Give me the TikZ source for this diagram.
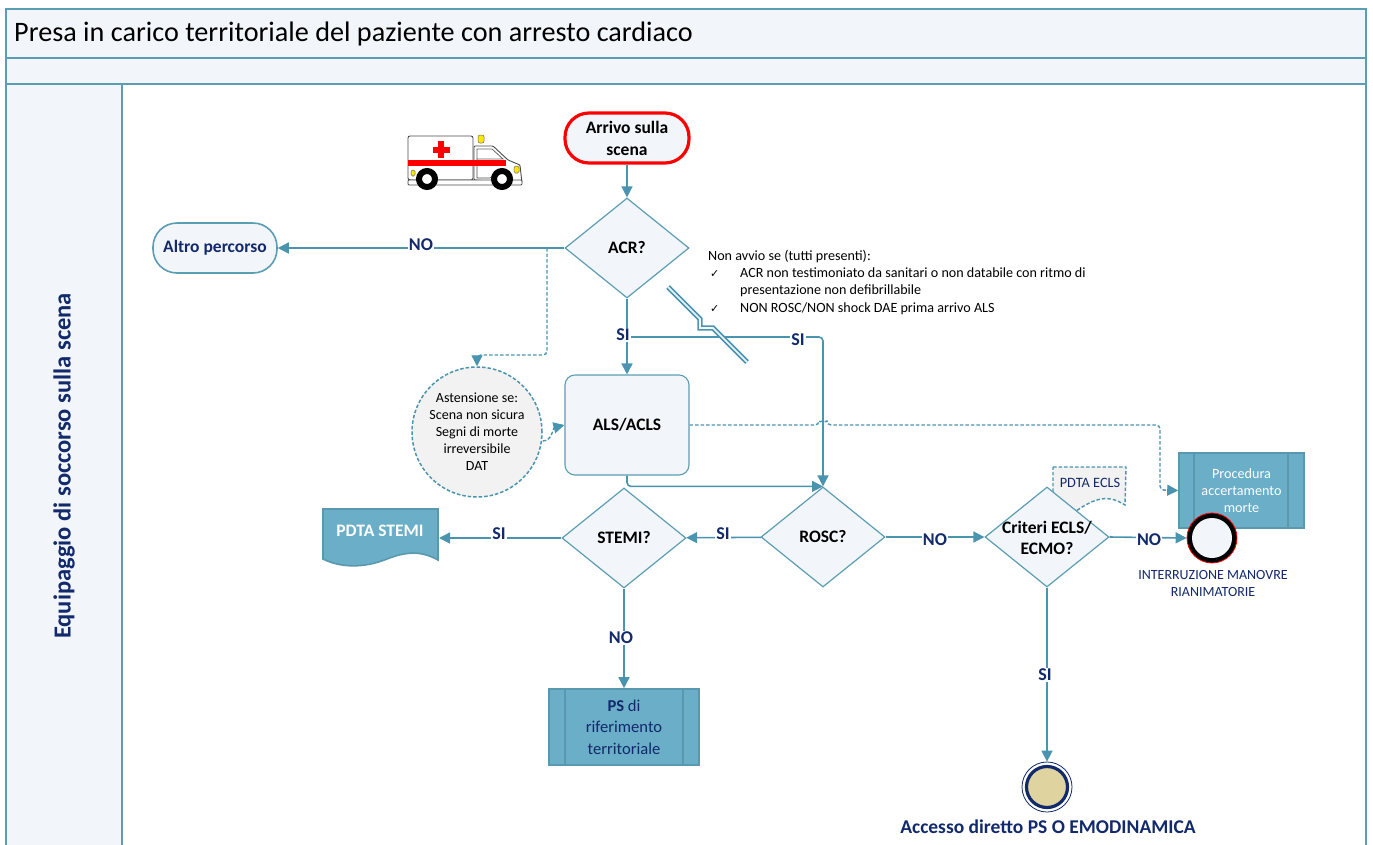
\documentclass[tikz,border=0pt]{standalone}
\usepackage{fontspec}
\setmainfont{Carlito}
\newfontfamily\symfont{DejaVu Sans}
\usetikzlibrary{shapes.geometric,arrows.meta,calc}
\definecolor{teal1}{HTML}{4A94B0}
\definecolor{frameC}{HTML}{5B9DB3}
\definecolor{paleC}{HTML}{F2F6FA}
\definecolor{navyC}{HTML}{12296B}
\definecolor{boxC}{HTML}{6AAEC8}
\definecolor{boxE}{HTML}{5A98AE}
\definecolor{greyC}{HTML}{F2F2F2}
\definecolor{sandC}{HTML}{DFD3A0}
\tikzset{
  x=1pt,y=-1pt,
  lane/.style={draw=frameC,line width=1.6pt,fill=paleC,outer sep=0pt},
  flow/.style={draw=teal1,line width=1.6pt,rounded corners=4pt,-{Triangle[length=11pt,width=11pt]}},
  dflow/.style={flow,line width=1.4pt,dash pattern=on 3.5pt off 2pt,-{Triangle[length=11pt,width=11pt,sep=0pt]}},
  dec/.style={diamond,aspect=1.24,draw=frameC,line width=1.2pt,fill=paleC,inner sep=0pt,minimum width=124pt,minimum height=100pt,font=\fontsize{17.5}{21}\selectfont\bfseries,align=center},
  term/.style={draw=frameC,line width=1.6pt,fill=paleC,rounded corners=24pt,minimum height=50pt,align=center,inner sep=0pt},
  proc/.style={draw=boxE,line width=1.6pt,fill=boxC,inner sep=0pt,align=center,text=white},
  lab/.style={fill=white,inner sep=1pt,text=navyC,font=\fontsize{18}{18}\selectfont\bfseries},
  small/.style={font=\fontsize{14.1}{16}\selectfont,anchor=base west,inner sep=0pt},
}
\begin{document}
\begin{tikzpicture}
\useasboundingbox (0,0) rectangle (1373,844);
\clip (0,0) rectangle (1373,844);
\fill[white] (0,0) rectangle (1373,844);
% swimlane
\node[lane,anchor=north west,minimum width=1360pt,minimum height=49pt,inner sep=0pt] (titlebar) at (6,9) {};
\node[anchor=west,inner sep=0pt,font=\fontsize{28.2}{32}\selectfont] (titletext) at (14,34) {Presa in carico territoriale del paziente con arresto cardiaco};
\node[lane,anchor=north west,minimum width=1360pt,minimum height=26pt,inner sep=0pt] (band) at (6,58) {};
\node[lane,anchor=north west,minimum width=116pt,minimum height=780pt,inner sep=0pt] (lanehead) at (6,84) {};
\node[draw=frameC,line width=1.6pt,outer sep=0pt,anchor=north west,minimum width=1244pt,minimum height=780pt,inner sep=0pt] (lanebody) at (122,84) {};
\node[rotate=90,text=navyC,font=\fontsize{24.5}{28}\selectfont\bfseries,inner sep=0pt] (lanetext) at (64,466) {Equipaggio di soccorso sulla scena};

% ambulance
\draw[black!70,line width=.9pt,fill=white,rounded corners=2pt] (408,136) rectangle (473,180);
\draw[black!70,line width=.9pt,fill=white,rounded corners=1pt] (474,146) -- (493,146) -- (508,160) -- (520,165) -- (522,183) -- (474,180) -- cycle;
\draw[black!60,line width=.8pt,fill=white] (477,149) -- (492,149) -- (503,159) -- (477,159) -- cycle;
\draw[black!70,line width=.6pt] (477,159) -- (477,178) -- (490,178) -- (500,170);
\fill[red] (408,160) rectangle (506,166);
\fill[red] (438,141) rectangle (444,158);
\fill[red] (433,146.5) rectangle (450,152.5);
\draw[black!70,line width=.8pt,fill=white,rounded corners=1pt] (408,180) rectangle (522,185);
\draw[black!60,line width=.5pt,fill=yellow!90!orange,rounded corners=2pt] (478,135) rectangle (484,143);
\draw[black!60,line width=.5pt,fill=yellow!90!orange,rounded corners=1.5pt] (514,166) rectangle (519,173);
\draw[black!60,line width=.5pt,fill=yellow!90!orange,rounded corners=1.5pt] (411,170) rectangle (415,176);
\draw[black,line width=6pt,fill=white] (427,179) circle (8);
\draw[black,line width=6pt,fill=white] (502,179) circle (8);

% note behind diamond
\draw[draw=teal1,line width=1.4pt,dash pattern=on 3.5pt off 2pt,fill=greyC] (1053,467) -- (1126,467) -- (1125,505) .. controls (1108,494) and (1095,498) .. (1076,511) -- (1053,500) -- cycle;
\node[text=navyC,font=\fontsize{14.3}{16}\selectfont,inner sep=0pt] (ecls) at (1090,483) {PDTA ECLS};

% nodes
\node[term,draw=red,line width=3.2pt,minimum width=124pt,font=\fontsize{17.5}{22}\selectfont\bfseries] (arrivo) at (627,138) {Arrivo sulla\\scena};
\node[dec] (acr) at (627,248) {ACR?};
\node[term,minimum width=124pt,text=navyC,font=\fontsize{17.5}{20}\selectfont\bfseries] (altro) at (215,248) {Altro percorso};
\node[draw=frameC,line width=1.1pt,fill=paleC,rounded corners=10pt,minimum width=124pt,minimum height=100pt,inner sep=0pt,font=\fontsize{17.5}{20}\selectfont\bfseries] (als) at (627,425) {ALS/ACLS};
\node[circle,draw=teal1,line width=1.5pt,dash pattern=on 3.5pt off 2pt,fill=greyC,minimum size=130pt,inner sep=0pt,align=center,font=\fontsize{14}{17}\selectfont] (ast) at (477,432) {Astensione se:\\Scena non sicura\\Segni di morte\\irreversibile\\DAT};
\node[dec] (rosc) at (823,537) {ROSC?};
\node[dec] (stemi) at (624,538) {STEMI?};
\node[dec] (crit) at (1047,537) {};
\node[align=center,inner sep=0pt,font=\fontsize{17.5}{21}\selectfont\bfseries] (crittext) at (1047,538) {Criteri ECLS/\\ECMO?};

% PDTA STEMI document
\draw[draw=boxE,line width=1.6pt,fill=boxC] (323,509) -- (438,509) -- (438,560) .. controls (420,550) and (405,552) .. (387,559) .. controls (370,566) and (345,570) .. (323,559) -- cycle;
\node[text=white,font=\fontsize{17.5}{20}\selectfont\bfseries,inner sep=0pt] (stemidoc) at (380,531) {PDTA STEMI};
\coordinate (stemiend) at (439,538);

% PS box
\node[proc,minimum width=150pt,minimum height=76pt,text=navyC,font=\fontsize{16.6}{21.5}\selectfont] (ps) at (624,727) {\textbf{PS} di\\riferimento\\territoriale};
\draw[boxE,line width=1.6pt] (565,689) -- (565,765) (683,689) -- (683,765);

% Procedura
\node[proc,minimum width=125pt,minimum height=75pt,font=\fontsize{14.2}{17}\selectfont] (proc) at (1241.5,490.5) {Procedura\\accertamento\\morte};
\draw[boxE,line width=1.6pt] (1194,453) -- (1194,528) (1288,453) -- (1288,528);

% end events
\node[circle,draw=red,line width=.8pt,fill=black,minimum size=50pt,inner sep=0pt] (stopout) at (1212,538) {};
\node[circle,fill=paleC,minimum size=40pt,inner sep=0pt] (stopin) at (1212,538) {};
\node[align=center,text=navyC,font=\fontsize{14}{17}\selectfont,inner sep=0pt] (stoptext) at (1213,583) {INTERRUZIONE MANOVRE\\RIANIMATORIE};
\node[circle,draw=navyC,line width=.8pt,fill=white,minimum size=50pt,inner sep=0pt] (endout) at (1047,787) {};
\node[circle,draw=navyC,line width=3.2pt,fill=sandC,minimum size=41pt,inner sep=0pt] (endin) at (1047,787) {};
\node[text=navyC,font=\fontsize{19.5}{22}\selectfont\bfseries,inner sep=0pt] (endtext) at (1048,827) {Accesso diretto PS O EMODINAMICA};

% free-text note
\node[small] (n1) at (708,260.5) {Non avvio se (tutti presenti):};
\node[small,font=\symfont\fontsize{11}{14}\selectfont] (c1) at (710,277.5) {✓};
\node[small] (n2) at (740,277.5) {ACR non testimoniato da sanitari o non databile con ritmo di};
\node[small] (n3) at (740,294.5) {presentazione non defibrillabile};
\node[small,font=\symfont\fontsize{11}{14}\selectfont] (c2) at (710,312.5) {✓};
\node[small] (n4) at (740,312.5) {NON ROSC/NON shock DAE prima arrivo ALS};

% connectors
\draw[flow] (arrivo) -- (acr);
\draw[flow] (acr.west) -- (altro.east);
\draw[flow] (acr) -- (als);
\draw[flow] (acr.south |- 0,337) -| (rosc.north);
\draw[flow] (als.south) |- (rosc.north);
\draw[flow] (rosc) -- (stemi);
\draw[flow] (stemi.west) -- (stemiend);
\draw[flow] (stemi) -- (ps);
\draw[flow] (rosc) -- (crit);
\draw[flow] (crit.east) -- (stopout.west);
\draw[flow] (crit.south) -- (endout.north);
\draw[dflow] (547,248) -- (547,355) -- (477,355) -- (ast.north);
\draw[dflow,rounded corners=0pt] (ast.east |- 0,441) .. controls (552,441) and (553,428) .. (als.west);
\draw[dflow] (als.east) -- (819,425) arc[start angle=180,end angle=360,radius=4] -- (1160,425) -- (1160,490) -- (proc.west);

% break mark
\draw[teal1,line width=5.2pt] (668,287) -- (700,319) -- (700,328) -- (713,328) -- (747,362);
\draw[paleC,line width=1.7pt] (668,287) -- (700,319) -- (700,328) -- (713,328) -- (747,362);

% labels
\node[lab] (l1) at (421,245) {NO};
\node[lab] (l2) at (623,335) {SI};
\node[lab] (l3) at (798,340) {SI};
\node[lab] (l4) at (723,534) {SI};
\node[lab] (l5) at (499,534) {SI};
\node[lab] (l6) at (935,540) {NO};
\node[lab] (l7) at (1149,540) {NO};
\node[lab] (l8) at (621,638) {NO};
\node[lab] (l9) at (1045,675) {SI};
\end{tikzpicture}
\end{document}
